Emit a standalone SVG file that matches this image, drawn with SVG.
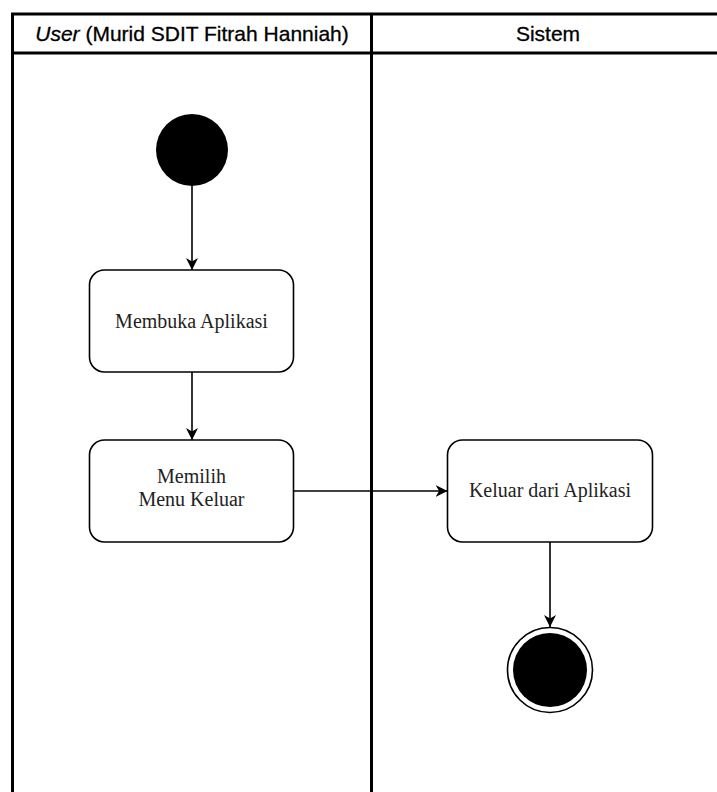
<svg xmlns="http://www.w3.org/2000/svg" width="717" height="792" viewBox="0 0 717 792">
<style>
.lane{fill:none;stroke:#000;stroke-width:3}
.box{fill:#fff;stroke:#000;stroke-width:1.6}
.t{font-family:"Liberation Serif","Times New Roman",serif;font-size:20px;fill:#222;text-anchor:middle}
.h{font-family:"Liberation Sans",Arial,sans-serif;font-size:21px;fill:#000;text-anchor:middle;stroke:#000;stroke-width:0.3}
.edge{fill:none;stroke:#000;stroke-width:1.6}
</style>
<defs>
<marker id="arr" viewBox="0 0 10 10" refX="10" refY="5" markerWidth="12" markerHeight="12" markerUnits="userSpaceOnUse" orient="auto">
<path d="M0,0 L10,5 L0,10 L3,5 Z" fill="#000"/>
</marker>
</defs>
<rect width="717" height="792" fill="#fff"/>
<g id="lanes">
<path class="lane" d="M12.5,800 V14 H720 M12.5,53 H720 M371.5,14 V800"/>
<text class="h" x="192" y="41"><tspan font-style="italic">User</tspan> (Murid SDIT Fitrah Hanniah)</text>
<text class="h" x="548" y="41">Sistem</text>
</g>
<g id="start"><circle cx="192" cy="150" r="36" fill="#000"/></g>
<g id="membuka">
<rect class="box" x="89.5" y="270" width="204" height="102" rx="15"/>
<text class="t" x="191.5" y="328">Membuka Aplikasi</text>
</g>
<g id="memilih">
<rect class="box" x="89.5" y="440" width="204" height="102" rx="15"/>
<text class="t" x="191.5" y="483">Memilih</text>
<text class="t" x="191.5" y="506">Menu Keluar</text>
</g>
<g id="keluar">
<rect class="box" x="447.5" y="440" width="205" height="102" rx="15"/>
<text class="t" x="550" y="497">Keluar dari Aplikasi</text>
</g>
<g id="end">
<circle cx="550" cy="670" r="42.5" fill="#fff" stroke="#000" stroke-width="1.6"/>
<circle cx="550" cy="670" r="37" fill="#000"/>
</g>
<g id="connectors">
<path class="edge" d="M192,186 V270" marker-end="url(#arr)"/>
<path class="edge" d="M192,372 V440" marker-end="url(#arr)"/>
<path class="edge" d="M293.5,491 H447.5" marker-end="url(#arr)"/>
<path class="edge" d="M550,542 V627" marker-end="url(#arr)"/>
</g>
</svg>
